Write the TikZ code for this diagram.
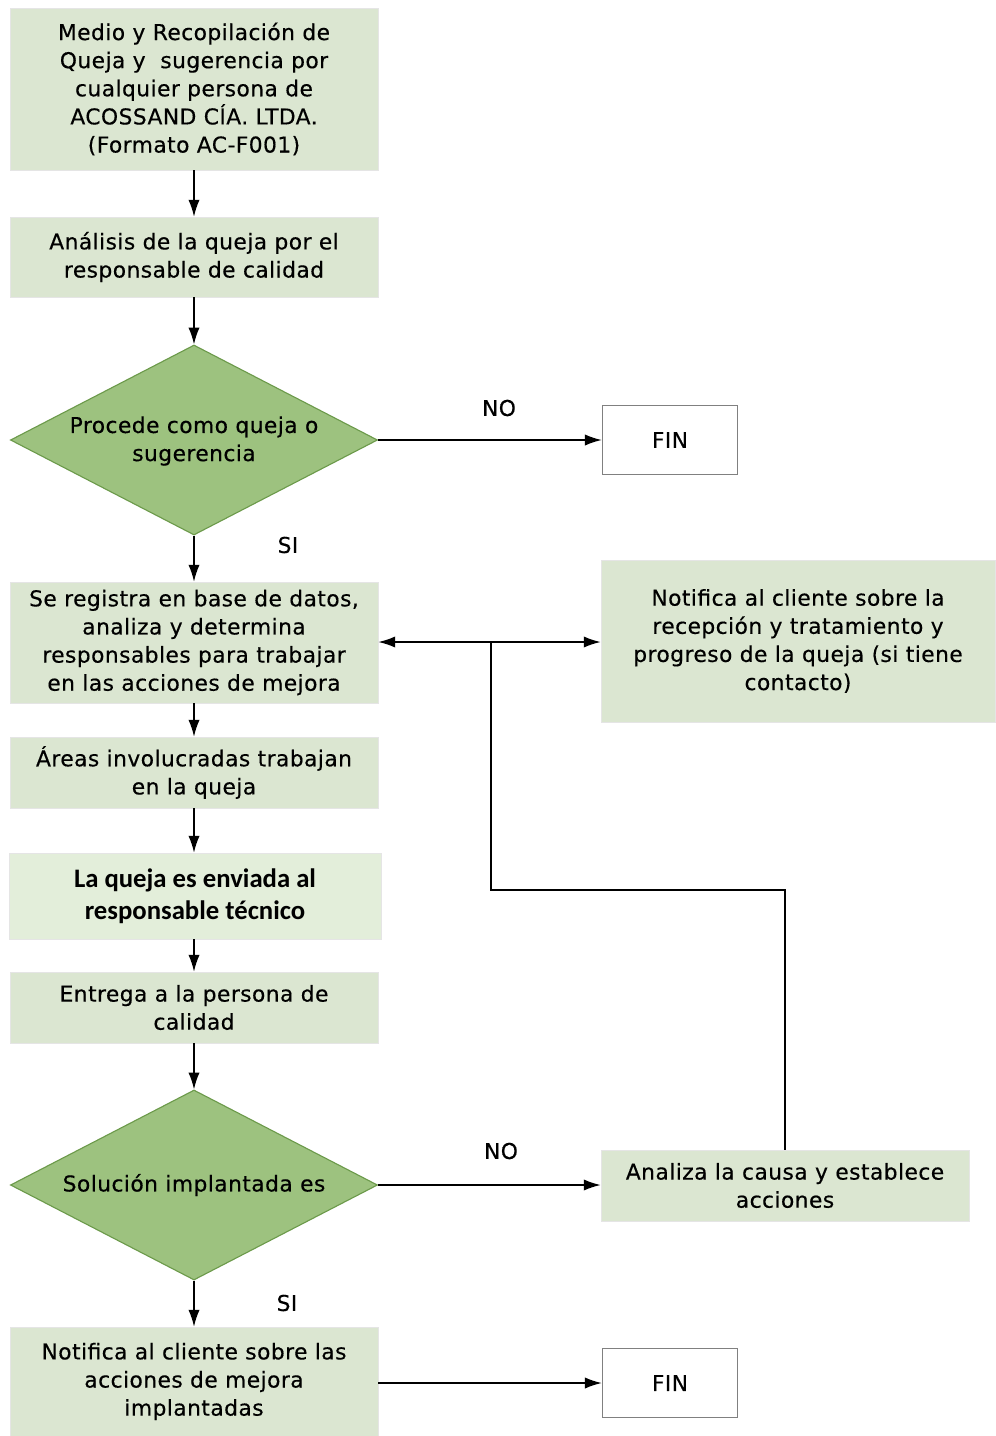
\documentclass[tikz,border=0pt]{standalone}
\usepackage{fontspec}
\setmainfont{DejaVu Sans}[LetterSpace=2,FakeBold=0.4]
\newfontfamily\calibfont{Carlito}
\usetikzlibrary{arrows.meta,positioning,shapes.geometric}
\definecolor{boxgreen}{RGB}{219,230,209}
\definecolor{lightgreen}{RGB}{227,238,218}
\definecolor{diagreen}{RGB}{157,194,127}
\definecolor{diaborder}{RGB}{108,154,75}

\begin{document}
\begin{tikzpicture}[x=0.025cm, y=-0.025cm, every node/.style={font=\fontsize{15.5}{20}\selectfont}]
\tikzset{stepbox/.style={draw=black!10, fill=boxgreen, minimum width=9.2cm, align=center, inner sep=0pt},
  decision/.style={diamond, draw=diaborder, line width=0.8pt, fill=diagreen, minimum width=9.175cm, minimum height=4.75cm, inner sep=0pt},
  finbox/.style={draw=gray, line width=1pt, fill=white, minimum width=3.375cm, minimum height=1.725cm},
  line/.style={line width=1.05pt},
  arrow/.style={line, -{Latex[length=12pt,width=8pt]}}}
\useasboundingbox (0,0) rectangle (995,1436);
% main column
\node[stepbox, minimum height=4.05cm] (med) at (194,89) {Medio y Recopilación de\\Queja y\ \ sugerencia por\\cualquier persona de\\ACOSSAND CÍA. LTDA.\\(Formato AC-F001)};
\node[stepbox, minimum height=2cm] (anal) at (194,257) {Análisis de la queja por el\\responsable de calidad};
\node[decision] (proc) at (194,440) {};
\node[align=center] (proctxt) at (194,441) {Procede como queja o\\sugerencia};
\node[finbox] (fin1) at (670,440) {FIN};
\node (no1) at (499,408) {NO};
\node (si1) at (288,545) {SI};
\node[stepbox, minimum height=3.025cm] (reg) at (194,642.5) {Se registra en base de datos,\\analiza y determina\\responsables para trabajar\\en las acciones de mejora};
\node[stepbox, minimum width=9.85cm, minimum height=4.05cm] (notif) at (798,641) {Notifica al cliente sobre la\\recepción y tratamiento y\\progreso de la queja (si tiene\\contacto)};
\node[stepbox, minimum height=1.775cm] (areas) at (194,772.5) {Áreas involucradas trabajan\\en la queja};
\node[stepbox, fill=lightgreen, minimum width=9.3cm, minimum height=2.15cm, font=\calibfont\bfseries\fontsize{19}{23}\selectfont] (env) at (195,896) {La queja es enviada al\\responsable técnico};
\node[stepbox, minimum height=1.775cm] (entr) at (194,1007.5) {Entrega a la persona de\\calidad};
\node[decision] (sol) at (194,1185) {};
\node (soltxt) at (194,1185) {Solución implantada es};
\node[stepbox, minimum height=1.775cm] (causa) at (785,1185.5) {Analiza la causa y establece\\acciones};
\node (no2) at (501,1151) {NO};
\node (si2) at (287,1303) {SI};
\node[stepbox, minimum height=2.725cm] (acc) at (194,1381.5) {Notifica al cliente sobre las\\acciones de mejora\\implantadas};
\node[finbox] (fin2) at (670,1383) {FIN};
\coordinate (jn) at (491,642);
\coordinate (jb) at (491,890);
% connectors
\draw[arrow] (med) -- (anal);
\draw[arrow] (anal) -- (proc);
\draw[arrow] (proc.east) -- (fin1.west);
\draw[arrow] (proc) -- (reg);
\draw[arrow] (reg) -- (areas);
\draw[arrow] (areas.south) -- (areas.south |- env.north);
\draw[arrow] (entr.north |- env.south) -- (entr.north);
\draw[arrow] (entr) -- (sol);
\draw[arrow] (sol.east) -- (causa.west |- sol.east);
\draw[arrow] (sol) -- (acc);
\draw[arrow] (acc.east |- fin2) -- (fin2.west);
\draw[line] (causa.north) |- (jb) -- (jn);
\draw[arrow] (jn) -- (reg.east |- jn);
\draw[arrow] (jn) -- (notif.west |- jn);
\end{tikzpicture}
\end{document}
